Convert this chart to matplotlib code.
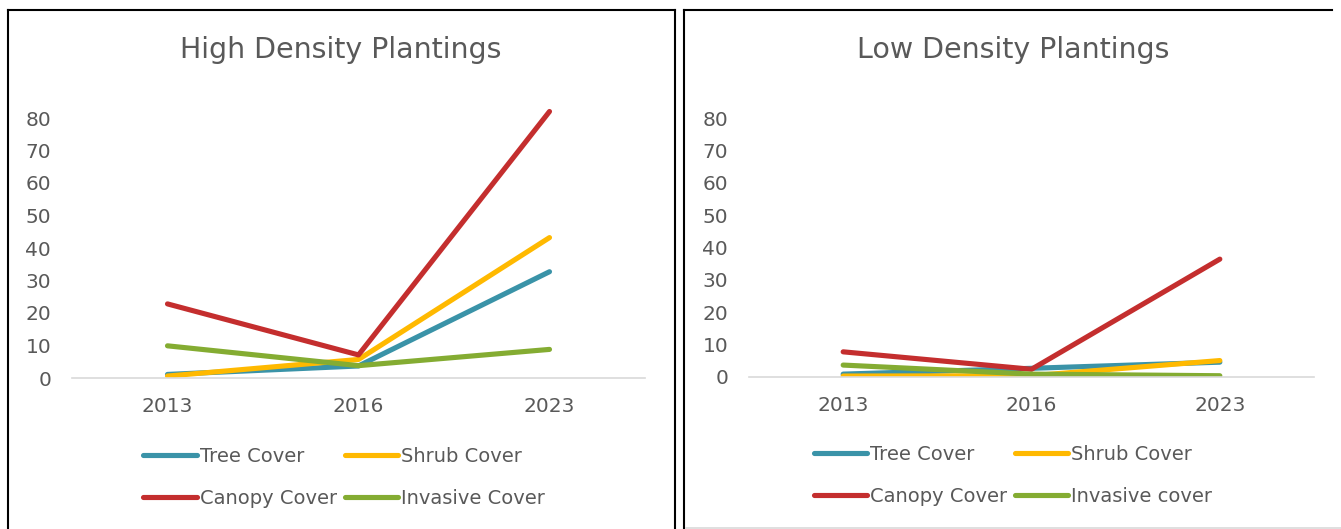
import matplotlib.pyplot as plt
from matplotlib.lines import Line2D

W, H = 1341, 529

years = ["2013", "2016", "2023"]
series_names = ["Tree Cover", "Shrub Cover", "Canopy Cover", "Invasive Cover"]
low_names = ["Tree Cover", "Shrub Cover", "Canopy Cover", "Invasive cover"]
colors = ["#3A93A8", "#FFB900", "#C42E2E", "#84AC32"]

# high density plantings
high_tree = [1.1, 3.7, 32.7]
high_shrub = [0.6, 5.7, 43.2]
high_canopy = [22.8, 7.1, 82.0]
high_invasive = [9.9, 3.8, 8.8]

# low density plantings
low_tree = [0.8, 2.6, 4.5]
low_shrub = [0.2, 0.3, 5.0]
low_canopy = [7.7, 2.3, 36.4]
low_invasive = [3.6, 0.8, 0.3]

yticks = [0, 10, 20, 30, 40, 50, 60, 70, 80]
TXT = "#595959"

plt.rcParams['font.family'] = ['DejaVu Sans']


def px_rect(x0, y0, x1, y1):
    return [x0 / W, 1 - y1 / H, (x1 - x0) / W, (y1 - y0) / H]


def fx(x):
    return x / W


def fy(y):
    return 1 - y / H


def draw_panel(ax, data, names):
    handles = []
    for vals, name, c in zip(data, names, colors):
        h, = ax.plot(range(len(years)), vals, color=c, lw=3.7,
                     solid_capstyle='round', solid_joinstyle='round', label=name)
        handles.append(h)
    ax.set_xlim(-0.5, len(years) - 0.5)
    ax.set_ylim(0, 90)
    ax.set_xticks(range(len(years)))
    ax.set_xticklabels(years)
    ax.set_yticks(yticks)
    ax.tick_params(length=0, colors=TXT, labelsize=14.5)
    ax.tick_params(axis='y', pad=15)
    ax.tick_params(axis='x', pad=14)
    for s in ['top', 'right', 'left']:
        ax.spines[s].set_visible(False)
    ax.spines['bottom'].set_color('#D9D9D9')
    ax.spines['bottom'].set_linewidth(1.2)
    ax.patch.set_alpha(0)
    return handles


fig = plt.figure(figsize=(W / 100, H / 100), dpi=100)

ax1 = fig.add_axes(px_rect(72, 85.5, 645, 378))
h1 = draw_panel(ax1, [high_tree, high_shrub, high_canopy, high_invasive], series_names)

ax2 = fig.add_axes(px_rect(749, 86, 1314, 376.7))
h2 = draw_panel(ax2, [low_tree, low_shrub, low_canopy, low_invasive], low_names)

fig.text(fx(341), fy(50), "High Density Plantings", ha='center', va='center',
         fontsize=20.5, color=TXT)
fig.text(fx(1013), fy(50), "Low Density Plantings", ha='center', va='center',
         fontsize=20.5, color=TXT)

for handles, cx, cy in [(h1, 344, 477.5), (h2, 1013, 475.5)]:
    order = [handles[0], handles[2], handles[1], handles[3]]
    fig.legend(order, [h.get_label() for h in order], ncol=2, loc='center',
               bbox_to_anchor=(fx(cx), fy(cy)), frameon=False, fontsize=14,
               labelcolor=TXT, handlelength=2.75, handletextpad=0.15,
               columnspacing=0.4, labelspacing=1.2)

# chart borders
blk = dict(color='black', lw=1.5, transform=fig.transFigure)
fig.add_artist(Line2D([fx(8), fx(8)], [fy(10), fy(535)], **blk))
fig.add_artist(Line2D([fx(8), fx(675)], [fy(10), fy(10)], **blk))
fig.add_artist(Line2D([fx(675), fx(675)], [fy(10), fy(535)], **blk))
fig.add_artist(Line2D([fx(684), fx(684)], [fy(10), fy(535)], **blk))
fig.add_artist(Line2D([fx(684), fx(1332)], [fy(10), fy(10)], **blk))
fig.add_artist(Line2D([fx(686), fx(1341)], [fy(528), fy(528)], color='#D9D9D9',
                      lw=1.2, transform=fig.transFigure))

fig.savefig("out.png", dpi=100)
